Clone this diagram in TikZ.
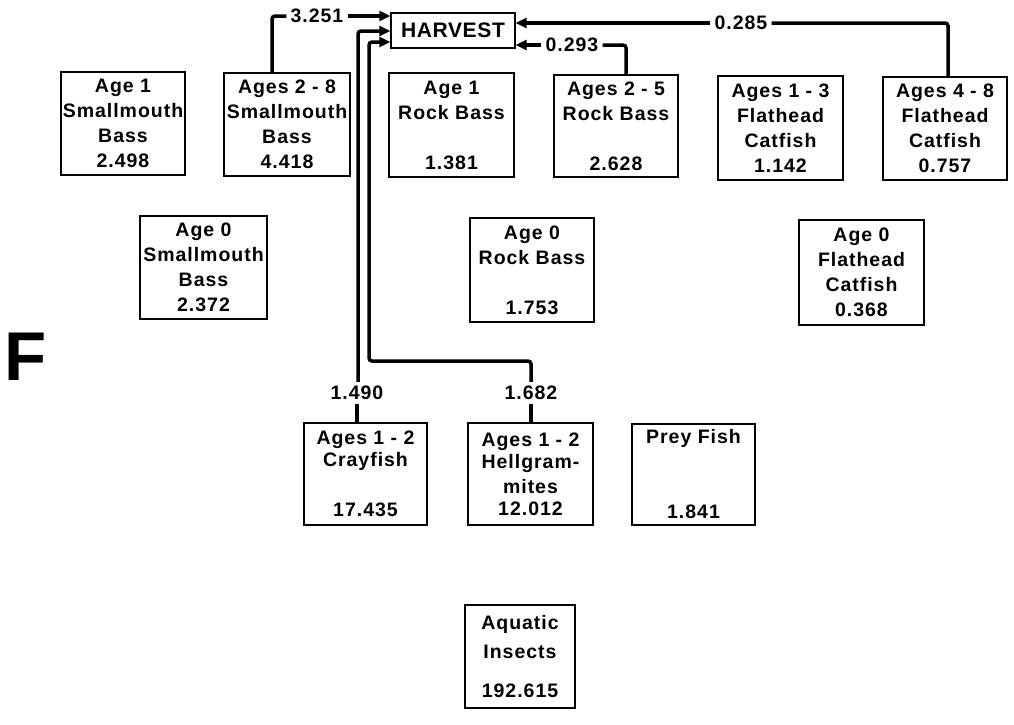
\documentclass[tikz,border=0pt]{standalone}
\usepackage{fontspec}
\usetikzlibrary{arrows.meta}
\newfontfamily\sbx{Liberation Sans}[LetterSpace=5]
\newfontfamily\hvx{Liberation Sans}[LetterSpace=3]
\newfontfamily\bigf{Liberation Sans}
\tikzset{
  box/.style={draw, line width=1.3pt, minimum width=124pt, minimum height=103pt, inner sep=0pt, align=center,
    font={\sbx\bfseries\fontsize{19.5}{25}\selectfont}},
  hbox/.style={draw, line width=1.3pt, minimum width=124pt, minimum height=35pt, inner sep=0pt,
    font={\hvx\bfseries\fontsize{21}{24}\selectfont}},
  lbl/.style={inner sep=4pt, font={\sbx\bfseries\fontsize{19.5}{25}\selectfont}},
  flow/.style={line width=3.5pt, rounded corners=3pt},
  tip/.style={-{Triangle[length=11pt,width=10pt]}}
}
\begin{document}
\begin{tikzpicture}[x=1pt,y=-1pt]
\useasboundingbox (0,0) rectangle (1014,724);
% boxes
\node[hbox] (harv) at (453,30.5) {HARVEST};
\node[box] (smb1) at (123,123.5) {Age 1\\Smallmouth\\Bass\\2.498};
\node[box, minimum width=126pt] (smb28) at (287,124.5) {Ages 2 - 8\\Smallmouth\\Bass\\4.418};
\node[box, minimum width=127pt] (smb0) at (203.5,267.5) {Age 0\\Smallmouth\\Bass\\2.372};
\node[box, minimum width=125pt, minimum height=104pt] (rb1) at (451.5,125) {Age 1\\Rock Bass\\~\\1.381};
\node[box, minimum height=102pt] (rb25) at (616,126) {Ages 2 - 5\\Rock Bass\\~\\2.628};
\node[box, minimum height=104pt] (rb0) at (532,270) {Age 0\\Rock Bass\\~\\1.753};
\node[box, minimum width=125pt, minimum height=104pt] (fc13) at (780.5,128) {Ages 1 - 3\\Flathead\\Catfish\\1.142};
\node[box] (fc48) at (945,128.5) {Ages 4 - 8\\Flathead\\Catfish\\0.757};
\node[box, minimum width=125pt, minimum height=105pt] (fc0) at (861.5,272.5) {Age 0\\Flathead\\Catfish\\0.368};
\node[box, minimum width=123pt, minimum height=102pt] (cray) at (365.5,474) {Ages 1 - 2\\[-3pt]Crayfish\\~\\17.435};
\node[box, minimum width=125pt, minimum height=102pt] (hell) at (530.5,474) {Ages 1 - 2\\[-3pt]Hellgram-\\mites\\[-3pt]12.012};
\node[box, minimum width=123pt, minimum height=101pt] (prey) at (693.5,474.5) {Prey Fish\\~\\~\\1.841};
\node[box, minimum width=110pt] (aqua) at (520,656.5) {Aquatic\\[4pt]Insects\\[14pt]192.615};
% panel letter
\node[inner sep=0pt, font={\bigf\bfseries\fontsize{69}{69}\selectfont}] (F) at (26,357) {F};
% flow labels
\node[lbl] (l3251) at (317,16) {3.251};
\node[lbl] (l0293) at (572,45) {0.293};
\node[lbl] (l0285) at (741,23) {0.285};
\node[lbl] (l1490) at (357,393) {1.490};
\node[lbl] (l1682) at (531,393) {1.682};
% corner coordinates
\coordinate (c1) at (272,16);
\coordinate (c2) at (626,45);
\coordinate (c3) at (948,23);
\coordinate (c4) at (358,31);
\coordinate (c5) at (531,361);
\coordinate (c6) at (369,361);
\coordinate (c7) at (369,42);
% flows
\draw[flow] (smb28.north -| c1) -- (c1) -- (l3251.west);
\draw[flow, tip] (l3251.east) -- (harv.west |- c1);
\draw[flow] (rb25.north -| c2) -- (c2) -- (l0293.east);
\draw[flow, tip] (l0293.west) -- (harv.east |- c2);
\draw[flow] (fc48.north -| c3) -- (c3) -- (l0285.east);
\draw[flow, tip] (l0285.west) -- (harv.east |- c3);
\draw[flow] (cray.north -| l1490) -- (l1490.south);
\draw[flow, tip] (l1490.north -| c4) -- (c4) -- (harv.west |- c4);
\draw[flow] (hell.north -| l1682) -- (l1682.south);
\draw[flow, tip] (l1682.north) -- (c5) -- (c6) -- (c7) -- (harv.west |- c7);
\end{tikzpicture}
\end{document}
